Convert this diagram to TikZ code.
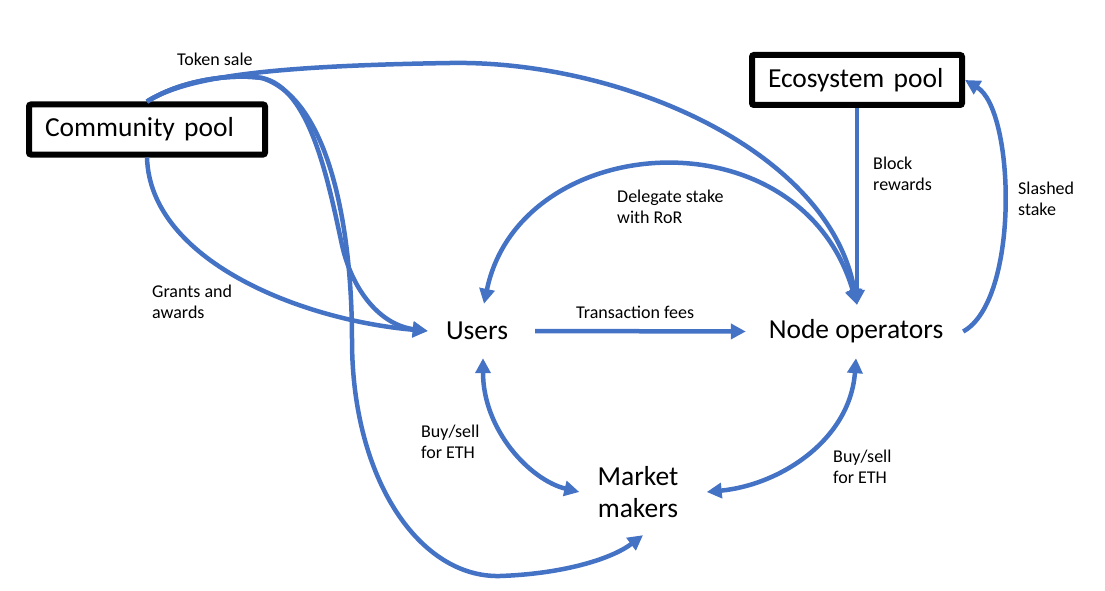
\documentclass[tikz,border=0pt]{standalone}
\usepackage{fontspec}
\setmainfont{Carlito}
\usetikzlibrary{arrows.meta}
\definecolor{flowblue}{RGB}{68,114,196}
\newcommand{\bigtxt}{\fontsize{27.5}{32}\selectfont}
\newcommand{\smalltxt}{\fontsize{18}{21}\selectfont}
\tikzset{
  pool/.style={draw=black, line width=6pt, rounded corners=2pt, align=left,
    inner xsep=16pt, inner ysep=0pt, minimum height=50pt, font=\bigtxt},
  actor/.style={inner sep=0pt, font=\bigtxt, align=center},
  flow/.style={draw=flowblue, line width=4.5pt, -{Triangle[length=15pt,width=15pt]}},
  twoway/.style={draw=flowblue, line width=4.5pt,
    {Triangle[length=15pt,width=15pt]}-{Triangle[length=15pt,width=15pt]}},
  lbl/.style={font=\smalltxt, align=left, inner sep=0pt, anchor=west}
}
\begin{document}
\begin{tikzpicture}[x=1pt,y=-1pt]
\useasboundingbox (0,0) rectangle (1105,591);

% nodes
\node[pool, text width=204pt] (cp) at (147,129.5) {\mbox{Community pool}};
\node[pool, text width=178pt] (eco) at (857,80) {\mbox{Ecosystem pool}};
\node[actor, minimum width=108pt, minimum height=54pt] (users) at (477,331) {Users};
\node[actor, minimum width=212pt, minimum height=53pt] (ops) at (856,331.5) {Node operators};
\node[actor, minimum width=127pt, minimum height=86pt] (mm) at (638,492) {Market\\makers};

% labels
\node[lbl] (lts) at (177,59) {Token sale};
\node[lbl] (lga) at (152,302) {Grants and\\awards};
\node[lbl] (lds) at (617,207) {Delegate stake\\with RoR};
\node[lbl] (ltf) at (576,312) {Transaction fees};
\node[lbl] (lbr) at (873,173.5) {Block\\rewards};
\node[lbl] (lss) at (1018,199) {Slashed\\stake};
\node[lbl] (lb1) at (421,441.5) {Buy/sell\\for ETH};
\node[lbl] (lb2) at (833,466.5) {Buy/sell\\for ETH};

% connectors from community pool
\draw[flow] (cp.north) .. controls (185,78) and (260,66) .. (450,63)
  .. controls (620,60) and (830,150) .. ([xshift=1pt]ops.north);
\draw[flow] (cp.north) .. controls (185,78) and (235,74) .. (262,78)
  .. controls (310,88) and (328,180) .. (342,245)
  .. controls (352,290) and (380,325) .. ([xshift=5pt]users.west);
\draw[flow] (cp.north) .. controls (185,78) and (235,74) .. (262,78)
  .. controls (330,100) and (352,230) .. (352,340)
  .. controls (352,480) and (420,578) .. (500,576)
  .. controls (560,574) and (610,560) .. ([xshift=5pt]mm.south);
\draw[flow] (cp.south) .. controls (150,260) and (300,320) .. ([xshift=5pt]users.west);

% other connectors
\draw[flow] ([xshift=4pt]users.east) -- ([xshift=-4pt]ops.west);
\draw[flow] (eco.south) -- ([xshift=1pt]ops.north);
\draw[twoway] ([xshift=7pt]users.north) .. controls (520,130) and (800,110) .. ([xshift=1pt]ops.north);
\draw[flow] ([xshift=1pt]ops.east) .. controls (1020,300) and (1015,110) .. (eco.east);
\draw[twoway] ([xshift=6pt]users.south) .. controls (483,430) and (530,480) .. ([xshift=5pt]mm.west);
\draw[twoway] (ops.south) .. controls (850,440) and (780,485) .. ([xshift=5pt]mm.east);
\end{tikzpicture}
\end{document}
